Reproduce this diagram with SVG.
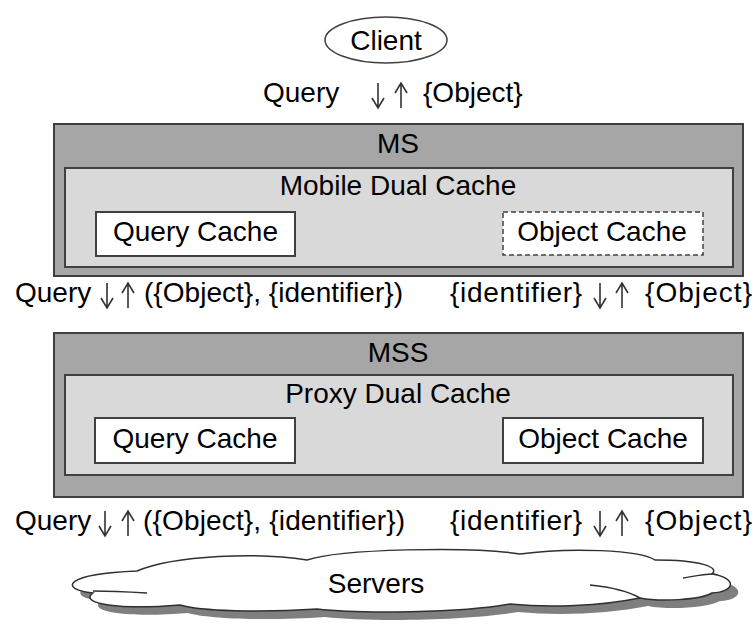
<svg xmlns="http://www.w3.org/2000/svg" width="755" height="628" viewBox="0 0 755 628">
<style>
text{font-family:"Liberation Sans",Arial,sans-serif;font-size:28px;fill:#000}
.c{text-anchor:middle}
.outer{fill:#a6a6a6;stroke:#404040;stroke-width:2}
.inner{fill:#d9d9d9;stroke:#404040;stroke-width:2}
.cache{fill:#fff;stroke:#404040;stroke-width:2}
.dash{fill:#fff;stroke:#404040;stroke-width:1.5;stroke-dasharray:5 3}
.ar{fill:none;stroke:#333;stroke-width:1.6}
.cl{stroke:#303030;stroke-width:1.5}
</style>
<defs>
<path id="down" class="ar" d="M0,0 V25 M-6,15 L0,25 L6,15"/>
<path id="up" class="ar" d="M0,25 V0 M-6,10 L0,0 L6,10"/>
<path id="cloud" d="M137,571 C175,555 260,552 307,560 C340,549 470,546 520,554 C570,547 640,550 655,560 C700,560 720,567 712,574 C738,578 735,592 712,593 C700,600 660,602 640,598 C600,606 550,608 510,604 C460,613 360,614 317,609 C260,613 200,611 180,605 C120,610 78,604 93,593 C58,589 64,574 137,571 Z"/>
</defs>
<rect width="755" height="628" fill="#fff"/>
<g id="client">
<ellipse cx="386" cy="40" rx="61" ry="23" fill="#fff" stroke="#404040" stroke-width="1.5"/>
<text class="c" x="386" y="50">Client</text>
</g>
<g id="ms">
<rect class="outer" x="54" y="124" width="689" height="152"/>
<text class="c" x="398" y="153">MS</text>
<g id="mobile-dual-cache">
<rect class="inner" x="65" y="168" width="668" height="99"/>
<text class="c" x="398" y="195">Mobile Dual Cache</text>
</g>
<g id="ms-query-cache">
<rect class="cache" x="96" y="212" width="199" height="44"/>
<text class="c" x="195.5" y="241">Query Cache</text>
</g>
<g id="ms-object-cache">
<rect class="dash" x="503" y="212" width="200" height="43"/>
<text class="c" x="602" y="241">Object Cache</text>
</g>
</g>
<g id="mss">
<rect class="outer" x="54" y="333" width="689" height="164"/>
<text class="c" x="398" y="362">MSS</text>
<g id="proxy-dual-cache">
<rect class="inner" x="65" y="375" width="668" height="100"/>
<text class="c" x="398" y="403">Proxy Dual Cache</text>
</g>
<g id="mss-query-cache">
<rect class="cache" x="95" y="418" width="200" height="45"/>
<text class="c" x="195" y="448">Query Cache</text>
</g>
<g id="mss-object-cache">
<rect class="cache" x="503" y="418" width="200" height="45"/>
<text class="c" x="603" y="448">Object Cache</text>
</g>
</g>
<g id="servers">
<use href="#cloud" transform="translate(8,8)" fill="#7f7f7f"/>
<use href="#cloud" fill="#fff" class="cl"/>
<path fill="none" class="cl" d="M93,591 C110,591 130,592 147,593 M590,585 C610,587 628,591 640,598 M683,578 C695,576 705,574 712,574"/>
<text class="c" x="376" y="593">Servers</text>
</g>
<g id="connectors">
<text x="263" y="102">Query</text>
<use href="#down" x="378" y="83"/>
<use href="#up" x="401" y="83"/>
<text x="423" y="102">{Object}</text>

<text x="15" y="302">Query</text>
<use href="#down" x="107" y="283"/>
<use href="#up" x="128" y="283"/>
<text x="144" y="302" textLength="259">({Object}, {identifier})</text>
<text x="450" y="302" textLength="132">{identifier}</text>
<use href="#down" x="600" y="283"/>
<use href="#up" x="622" y="283"/>
<text x="645" y="302" textLength="107">{Object}</text>

<text x="15" y="530">Query</text>
<use href="#down" x="105" y="511"/>
<use href="#up" x="128" y="511"/>
<text x="143" y="530" textLength="262">({Object}, {identifier})</text>
<text x="450" y="530" textLength="132">{identifier}</text>
<use href="#down" x="600" y="511"/>
<use href="#up" x="622" y="511"/>
<text x="645" y="530" textLength="107">{Object}</text>
</g>
</svg>
